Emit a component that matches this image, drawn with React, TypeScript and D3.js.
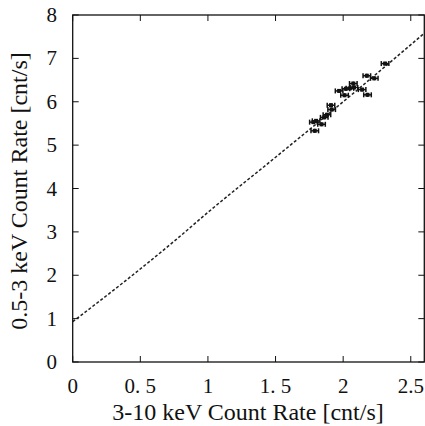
import React from "react";
import * as d3 from "d3";

const xTicks = [0, 0.5, 1, 1.5, 2, 2.5];
const xTickLabels = ["0", "0. 5", "1", "1. 5", "2", "2.5"];
const yTicks = [0, 1, 2, 3, 4, 5, 6, 7, 8];

// Hard (3-10 keV) vs soft (0.5-3 keV) count rates
const hardRate = [2.31, 2.175, 2.23, 2.075, 1.97, 2.02, 2.05, 2.08, 2.14, 2.01, 2.18, 1.91, 1.915, 1.88, 1.86, 1.80, 1.78, 1.84, 1.79];
const softRate = [6.88, 6.60, 6.54, 6.42, 6.25, 6.30, 6.31, 6.33, 6.28, 6.15, 6.16, 5.92, 5.82, 5.70, 5.64, 5.56, 5.53, 5.48, 5.33];
const hardErr = [0.028, 0.028, 0.028, 0.028, 0.028, 0.028, 0.028, 0.028, 0.028, 0.028, 0.028, 0.028, 0.028, 0.028, 0.028, 0.028, 0.028, 0.028, 0.028];
const softErr = [0.045, 0.045, 0.045, 0.045, 0.045, 0.045, 0.045, 0.045, 0.045, 0.045, 0.045, 0.045, 0.045, 0.045, 0.045, 0.045, 0.045, 0.045, 0.045];

// Model curve
const modelX = [0, 0.365, 0.76, 1.0, 1.5, 2.0, 2.6];
const modelY = [0.93, 1.81, 2.81, 3.45, 4.72, 6.0, 7.58];

export default function App() {
  const W = 425, H = 426;
  const left = 72.7, right = 424.3, top = 15, bottom = 362;
  const x = d3.scaleLinear().domain([0, 2.6]).range([left, right]);
  const y = d3.scaleLinear().domain([0, 8]).range([bottom, top]);
  const font = "'Liberation Serif', 'Times New Roman', serif";
  const tl = 6;

  const line = d3.line<number>()
    .x((_, i) => x(modelX[i]))
    .y((d) => y(d))
    .curve(d3.curveMonotoneX);

  return (
    <svg width={W} height={H} style={{ position: "absolute", left: 0, top: 0 }}>
      <rect width={W} height={H} fill="white" />
      <path d={line(modelY) || ""} fill="none" stroke="#222" strokeWidth={1.5} strokeDasharray="3,2" />
      {hardRate.map((hx, i) => {
        const cx = x(hx), cy = y(softRate[i]);
        const x0 = x(hx - hardErr[i]), x1 = x(hx + hardErr[i]);
        const y0 = y(softRate[i] - softErr[i]), y1 = y(softRate[i] + softErr[i]);
        return (
          <g key={i} stroke="#111" strokeWidth={1.5}>
            <line x1={x0} x2={x1} y1={cy} y2={cy} />
            <line x1={x0} x2={x0} y1={cy - 2.5} y2={cy + 2.5} />
            <line x1={x1} x2={x1} y1={cy - 2.5} y2={cy + 2.5} />
            <line x1={cx} x2={cx} y1={y0} y2={y1} />
            <rect x={cx - 2} y={cy - 2} width={4} height={4} fill="#111" stroke="none" />
          </g>
        );
      })}
      <rect x={left} y={top} width={right - left} height={bottom - top} fill="none" stroke="#111" strokeWidth={1.3} />
      {xTicks.map((t, i) => (
        <g key={"x" + i}>
          <line x1={x(t)} x2={x(t)} y1={bottom} y2={bottom - tl} stroke="#111" strokeWidth={1} />
          <line x1={x(t)} x2={x(t)} y1={top} y2={top + tl} stroke="#111" strokeWidth={1} />
          <text x={x(t)} y={393} textAnchor="middle" fontFamily={font} fontSize={21} fill="#111">{xTickLabels[i]}</text>
        </g>
      ))}
      {yTicks.map((t, i) => (
        <g key={"y" + i}>
          <line x1={left} x2={left + tl} y1={y(t)} y2={y(t)} stroke="#111" strokeWidth={1} />
          <line x1={right} x2={right - tl} y1={y(t)} y2={y(t)} stroke="#111" strokeWidth={1} />
          <text x={57} y={y(t) + 7} textAnchor="end" fontFamily={font} fontSize={21} fill="#111">{t}</text>
        </g>
      ))}
      <text x={248} y={420} textAnchor="middle" fontFamily={font} fontSize={24} fill="#111">3-10 keV Count Rate [cnt/s]</text>
      <text transform={`translate(27, 191) rotate(-90)`} textAnchor="middle" fontFamily={font} fontSize={24} fill="#111">0.5-3 keV Count Rate [cnt/s]</text>
    </svg>
  );
}
